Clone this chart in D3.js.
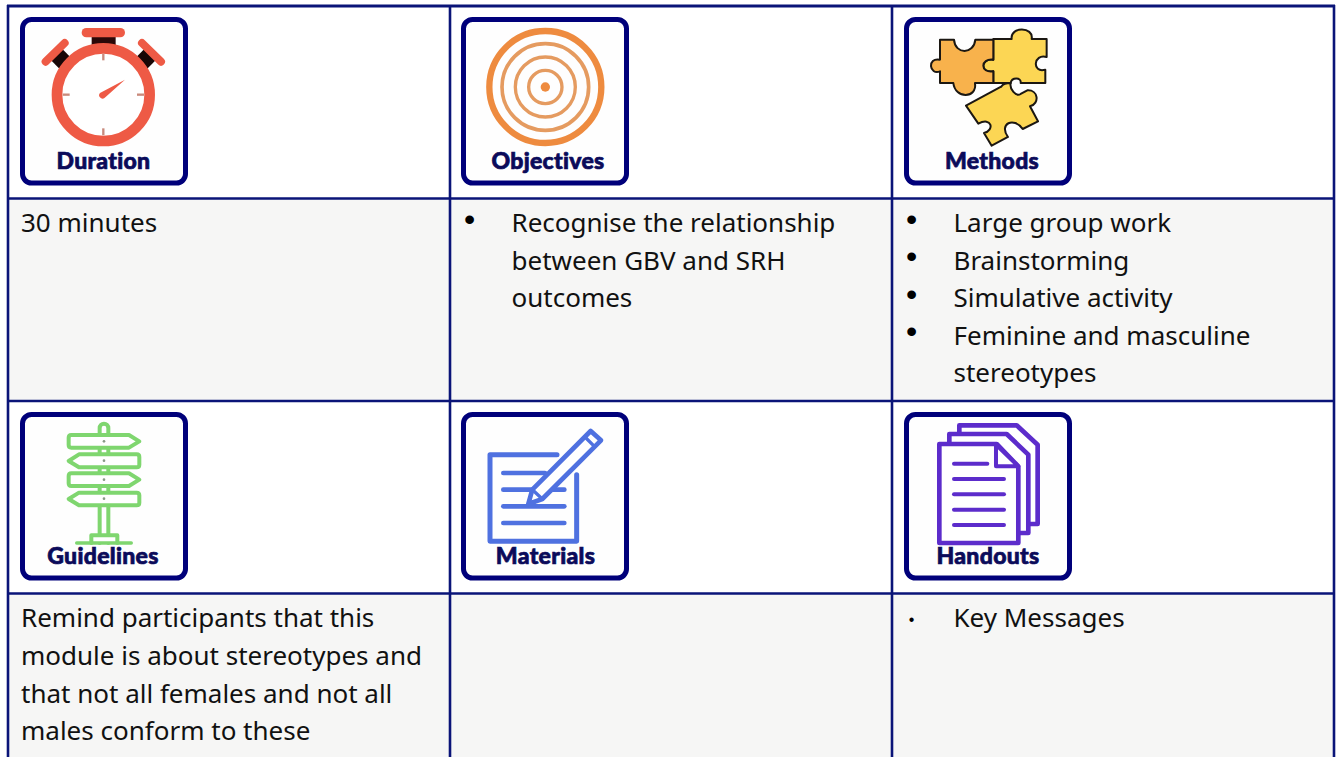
<!DOCTYPE html>
<html>
<head>
<meta charset="utf-8">
<style>
html, body { margin: 0; padding: 0; background: #fff; overflow: hidden; }
svg { display: block; }
.cell-text { font-family: "Noto Sans", sans-serif; font-size: 26px; fill: #111; }
.bullet { font-family: "Liberation Sans", sans-serif; fill: #000; text-anchor: middle; }
.icon-title { font-family: Lato, sans-serif; font-weight: 900; font-size: 23px; fill: #0b0b5a; stroke: #0b0b5a; stroke-width: 0.7; letter-spacing: 0.3px; text-anchor: middle; }
</style>
<script src="https://cdn.jsdelivr.net/npm/d3@7"></script>
</head>
<body>
<svg id="sheet" width="1336" height="757"></svg>
<script>
// table content
var iconTitles = ['Duration', 'Objectives', 'Methods', 'Guidelines', 'Materials', 'Handouts'];
var durationLines = ['30 minutes'];
var objectiveItems = [['Recognise the relationship', 'between GBV and SRH', 'outcomes']];
var methodItems = [['Large group work'], ['Brainstorming'], ['Simulative activity'], ['Feminine and masculine', 'stereotypes']];
var guidelineLines = ['Remind participants that this', 'module is about stereotypes and', 'that not all females and not all', 'males conform to these'];
var handoutItems = [['Key Messages']];

var navy = '#0a1478';
var boxNavy = '#00007a';

var svg = d3.select('#sheet');

var colX = d3.scaleLinear().domain([0, 3]).range([8, 1334]);
var rowY = d3.scaleOrdinal().domain([0, 1, 2, 3, 4]).range([6, 198.5, 401, 593.5, 757]);

// shaded text rows
[1, 3].forEach(function(r) {
    svg.append('rect')
        .attr('x', colX(0)).attr('y', rowY(r))
        .attr('width', colX(3) - colX(0)).attr('height', rowY(r + 1) - rowY(r))
        .attr('fill', '#f6f6f5');
});

// grid lines
d3.range(4).forEach(function(c) {
    svg.append('line')
        .attr('x1', colX(c)).attr('x2', colX(c))
        .attr('y1', rowY(0) - 1).attr('y2', rowY(4))
        .attr('stroke', navy).attr('stroke-width', 2.6);
});
d3.range(4).forEach(function(r) {
    svg.append('line')
        .attr('x1', colX(0) - 1).attr('x2', colX(3) + 1)
        .attr('y1', rowY(r)).attr('y2', rowY(r))
        .attr('stroke', navy).attr('stroke-width', r === 0 ? 3 : 2.6);
});

var lineGap = 37.6;

function addLines(lines, x, y) {
    svg.selectAll(null)
        .data(lines)
        .enter()
        .append('text')
        .attr('class', 'cell-text')
        .attr('x', x)
        .attr('y', function(d, i) { return y + i * lineGap; })
        .text(function(d) { return d; });
}

function addBullets(items, x, y, size) {
    var n = 0;
    items.forEach(function(lines) {
        svg.append('text')
            .attr('class', 'bullet')
            .attr('x', x)
            .attr('y', y + n * lineGap - 2.4)
            .attr('font-size', size)
            .text('\u2022');
        addLines(lines, x + 42, y + n * lineGap);
        n += lines.length;
    });
}

addLines(durationLines, 21, 232);
addBullets(objectiveItems, 469.5, 232, 32);
addBullets(methodItems, 911.5, 232, 32);
addLines(guidelineLines, 21, 627.3);
addBullets(handoutItems, 911.5, 627.3, 16);

// icon cards: shapes below are in 3x coordinates, measured from the card corner
function addCard(index, left, top, titleX) {
    var g = svg.append('g').attr('transform', 'translate(' + left + ',' + top + ')');
    g.append('rect')
        .attr('x', 2.5).attr('y', 2.5)
        .attr('width', 163).attr('height', 163.5)
        .attr('rx', 9)
        .attr('fill', '#fefefe')
        .attr('stroke', boxNavy)
        .attr('stroke-width', 5);
    g.append('text')
        .attr('class', 'icon-title')
        .attr('x', titleX).attr('y', 152)
        .text(iconTitles[index]);
    return g.append('g').attr('transform', 'scale(0.3333)');
}

function path(g, d, fill, stroke, width) {
    return g.append('path')
        .attr('d', d)
        .attr('fill', fill)
        .attr('stroke', stroke)
        .attr('stroke-width', width)
        .attr('stroke-linejoin', 'round')
        .attr('stroke-linecap', 'round');
}

function drawDuration(g) {
    var red = '#ee5a45';
    g = g.append('g').attr('transform', 'translate(-60,-52)');
    path(g, 'M275,124H347', 'none', '#2b0808', 24).attr('stroke-linecap', 'butt');
    path(g, 'M170,165L202,197', 'none', '#180606', 48).attr('stroke-linecap', 'butt');
    path(g, 'M450,165L418,197', 'none', '#180606', 48).attr('stroke-linecap', 'butt');
    path(g, 'M259,99H361', 'none', red, 28);
    path(g, 'M137,186L194,130', 'none', red, 24);
    path(g, 'M483,186L426,130', 'none', red, 24);
    g.append('circle').attr('cx', 310).attr('cy', 285).attr('r', 139)
        .attr('fill', '#fff').attr('stroke', red).attr('stroke-width', 32);
    ['M310,162V182', 'M310,386V407', 'M188,285H209', 'M411,285H432'].forEach(function(d) {
        path(g, d, 'none', '#c98a7c', 7).attr('stroke-linecap', 'butt');
    });
    path(g, 'M300,280L375,240L316,293A10,10 0 0 1 300,280Z', red, 'none', 0);
}

function drawObjectives(g) {
    var orange = '#ee8b3f';
    g = g.append('g').attr('transform', 'translate(-48,-52)');
    [[168, 19], [130, 11], [90, 10], [50, 10]].forEach(function(d, i) {
        g.append('circle').attr('cx', 301).attr('cy', 262).attr('r', d[0])
            .attr('fill', 'none')
            .attr('stroke', i === 0 ? orange : '#e59b60')
            .attr('stroke-width', d[1]);
    });
    g.append('circle').attr('cx', 301).attr('cy', 262).attr('r', 14).attr('fill', orange);
}

function drawMethods(g) {
    var ink = '#1b1712';
    var yellow = '#fcd654';
    g = g.append('g').attr('transform', 'translate(-42,-52)');
    path(g, 'M310,118H365C360,80 432,80 425,118H470V172C430,160 425,222 466,210V250H392C395,232 365,232 362,250H310V215C270,222 270,175 310,180Z', yellow, ink, 6);
    path(g, 'M150,120H192C195,165 252,165 256,120H310V180C270,175 270,222 310,215V250H255C262,298 195,298 190,250H150V215C118,228 110,172 150,180Z', '#f8b24c', ink, 6);
    path(g, 'M228,318L332,262C340,258 330,252 362,250C358,268 378,292 392,283L412,272C445,270 450,312 420,320L444,365L398,388C372,350 325,372 354,412L305,438L282,400C315,392 305,350 265,372Z', yellow, ink, 6);
}

function drawGuidelines(g) {
    var green = '#7fd66f';
    g = g.append('g').attr('transform', 'translate(-58,-37)');
    path(g, 'M297,430V85A13,13 0 0 1 323,85V430', '#fff', green, 12);
    path(g, 'M272,430V407H350V430', '#fff', green, 12);
    path(g, 'M228,430H392', 'none', green, 10);
    ['M212,106H385L416,125L385,144H212Q204,144 204,136V114Q204,106 212,106Z',
     'M408,164H235L204,184L235,203H408Q416,203 416,195V172Q416,164 408,164Z',
     'M212,221H385L416,240L385,259H212Q204,259 204,251V229Q204,221 212,221Z',
     'M408,279H235L204,298L235,317H408Q416,317 416,309V287Q416,279 408,279Z'].forEach(function(d) {
        path(g, d, '#fff', green, 12);
    });
    [125, 183, 240, 297].forEach(function(y) {
        g.append('circle').attr('cx', 310).attr('cy', y).attr('r', 4).attr('fill', '#8a9a88');
    });
}

function drawMaterials(g) {
    var blue = '#4f71e0';
    g = g.append('g').attr('transform', 'translate(-48,-37)');
    path(g, 'M336,165H135V425H395V225', 'none', blue, 15);
    path(g, 'M175,220H300', 'none', blue, 14);
    path(g, 'M175,270H358', 'none', blue, 14);
    path(g, 'M175,320H358', 'none', blue, 14);
    path(g, 'M175,370H358', 'none', blue, 14);
    path(g, 'M437,94L468,122L292,298L250,313L262,270Z', '#fff', blue, 14);
    path(g, 'M264,272L292,298', 'none', blue, 10);
    path(g, 'M420,112L448,140', 'none', blue, 10);
}

function drawHandouts(g) {
    var purple = '#5c2ccb';
    g = g.append('g').attr('transform', 'translate(-42,-37)');
    path(g, 'M208,100V77H380L443,135V373H415', '#fff', purple, 14);
    path(g, 'M178,128V103H350L415,165V400H388', '#fff', purple, 14);
    path(g, 'M148,133H320L385,200V430H148Z', '#fff', purple, 14);
    path(g, 'M318,135V200H385Z', '#fff', purple, 12);
    path(g, 'M192,192H292', 'none', purple, 12);
    [238, 284, 330, 376].forEach(function(y) {
        path(g, 'M192,' + y + 'H342', 'none', purple, 12);
    });
}

drawDuration(addCard(0, 20, 17, 83.5));
drawObjectives(addCard(1, 461, 17, 87));
drawMethods(addCard(2, 904, 17, 88));
drawGuidelines(addCard(3, 20, 412, 83));
drawMaterials(addCard(4, 461, 412, 84.5));
drawHandouts(addCard(5, 904, 412, 84));
</script>
</body>
</html>
